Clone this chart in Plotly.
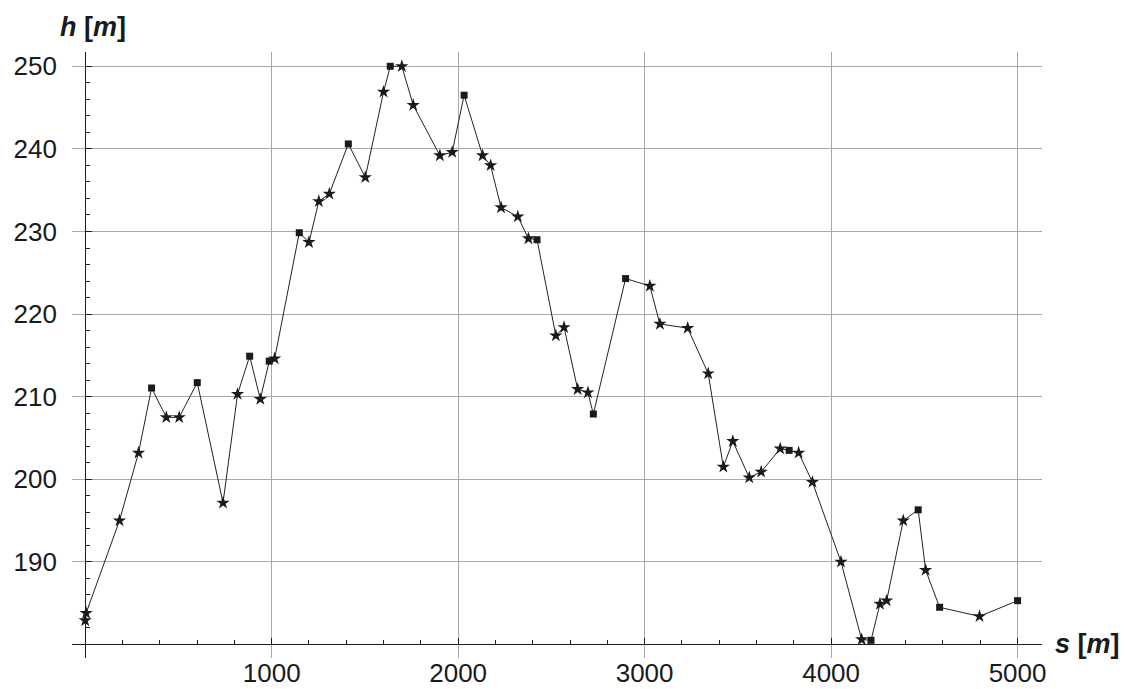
import plotly.graph_objects as go

# distance s [m]
s = [0, 5, 184, 286, 356, 435, 504, 601, 739, 817, 882, 939, 987, 1016,
     1148, 1200, 1253, 1309, 1411, 1502, 1600, 1636, 1698, 1759, 1902, 1968,
     2032, 2131, 2174, 2230, 2320, 2377, 2423, 2524, 2568, 2641, 2696, 2725,
     2898, 3028, 3082, 3231, 3341, 3422, 3473, 3561, 3625, 3727, 3775, 3826,
     3900, 4053, 4164, 4214, 4262, 4298, 4387, 4467, 4507, 4582, 4796, 5000]
# height h [m]
h = [182.9, 183.8, 195.0, 203.2, 211.05, 207.5, 207.5, 211.7, 197.15, 210.3,
     214.9, 209.7, 214.3, 214.6, 229.85, 228.7, 233.65, 234.55, 240.6, 236.55,
     246.9, 250.0, 250.0, 245.3, 239.2, 239.6, 246.5, 239.2, 238.0, 232.9,
     231.8, 229.15, 229.0, 217.4, 218.4, 210.9, 210.5, 207.9, 224.3, 223.4,
     218.8, 218.3, 212.8, 201.5, 204.6, 200.2, 200.9, 203.7, 203.5, 203.2,
     199.65, 190.0, 180.6, 180.5, 184.9, 185.3, 195.0, 196.3, 189.0, 184.5,
     183.4, 185.3]
# point kind: "star" or "square"
kind = ["star", "star", "star", "star", "square", "star", "star", "square",
        "star", "star", "square", "star", "square", "star", "square", "star",
        "star", "star", "square", "star", "star", "square", "star", "star",
        "star", "star", "square", "star", "star", "star", "star", "star",
        "square", "star", "star", "star", "star", "square", "square", "star",
        "star", "star", "star", "star", "star", "star", "star", "star",
        "square", "star", "star", "star", "star", "square", "star", "star",
        "star", "square", "star", "square", "star", "square"]

x_ticks = [1000, 2000, 3000, 4000, 5000]
y_ticks = [190, 200, 210, 220, 230, 240, 250]

x_range = [-70.8, 5131]
y_range = [178.36, 251.73]
x_axis_at = 180
y_axis_at = 0

font = "Liberation Sans, Arial, sans-serif"
ink = "#1a1a1a"
grid = "#a8a8a8"

star_s = [a for a, k in zip(s, kind) if k == "star"]
star_h = [b for b, k in zip(h, kind) if k == "star"]
sq_s = [a for a, k in zip(s, kind) if k == "square"]
sq_h = [b for b, k in zip(h, kind) if k == "square"]

fig = go.Figure()
fig.add_trace(go.Scatter(x=s, y=h, mode="lines",
                         line=dict(color="#222222", width=1), showlegend=False))
fig.add_trace(go.Scatter(x=star_s, y=star_h, mode="markers",
                         marker=dict(symbol="star", size=10, color="#1a1a1a",
                                     line=dict(width=0)), showlegend=False))
fig.add_trace(go.Scatter(x=sq_s, y=sq_h, mode="markers",
                         marker=dict(symbol="square", size=7, color="#1a1a1a",
                                     line=dict(width=0)), showlegend=False))

xpos = (x_axis_at - y_range[0]) / (y_range[1] - y_range[0])
ypos = (y_axis_at - x_range[0]) / (x_range[1] - x_range[0])

fig.update_layout(
    width=1125, height=689,
    margin=dict(l=72, r=83, t=52, b=31),
    plot_bgcolor="white", paper_bgcolor="white",
    xaxis=dict(range=x_range, anchor="free", position=xpos, automargin=False,
               tickmode="array", tickvals=x_ticks,
               ticktext=[str(v) for v in x_ticks],
               showline=True, linecolor=ink, linewidth=1.2,
               ticks="inside", ticklen=6, tickcolor=ink, tickwidth=1.2,
               showgrid=True, gridcolor=grid, gridwidth=1.2,
               zeroline=False, ticklabelstandoff=5,
               tickfont=dict(family=font, size=26, color=ink),
               minor=dict(tickmode="linear", tick0=0, dtick=200,
                          ticks="inside", ticklen=4, tickcolor=ink,
                          showgrid=False)),
    yaxis=dict(range=y_range, anchor="free", position=ypos, automargin=False,
               tickmode="array", tickvals=y_ticks,
               ticktext=[str(v) for v in y_ticks],
               showline=True, linecolor=ink, linewidth=1.2,
               ticks="inside", ticklen=6, tickcolor=ink, tickwidth=1.2,
               showgrid=True, gridcolor=grid, gridwidth=1.2,
               zeroline=False, ticklabelstandoff=23,
               tickfont=dict(family=font, size=26, color=ink),
               minor=dict(tickmode="linear", tick0=180, dtick=2,
                          ticks="inside", ticklen=4, tickcolor=ink,
                          showgrid=False)),
    annotations=[
        dict(text="<b><i>h</i> [<i>m</i>]</b>", xref="paper", yref="paper",
             x=ypos, y=1, xshift=8, yshift=25, xanchor="center", yanchor="middle",
             showarrow=False, font=dict(family=font, size=27, color=ink)),
        dict(text="<b><i>s</i> [<i>m</i>]</b>", xref="paper", yref="paper",
             x=1, y=xpos, xshift=11, yshift=0, xanchor="left", yanchor="middle",
             showarrow=False, font=dict(family=font, size=27, color=ink)),
    ],
)

fig.write_html("out.html", config={"displayModeBar": False},
               post_script="document.body.style.margin='0';")
